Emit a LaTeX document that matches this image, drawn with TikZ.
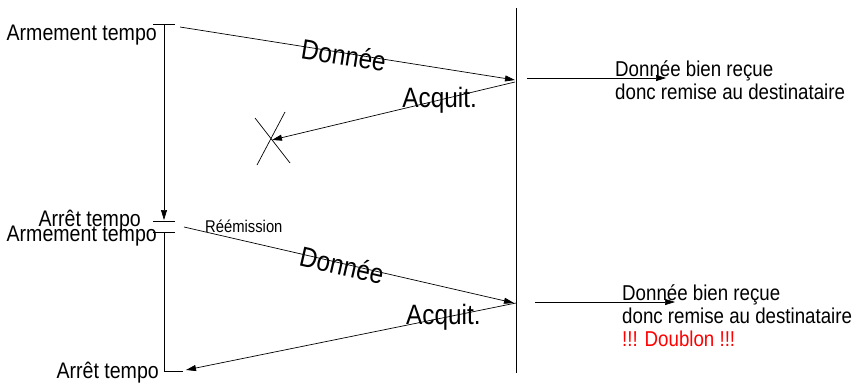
\documentclass[tikz,border=0pt]{standalone}
\usepackage{fontspec}
\setmainfont[FakeStretch=0.87]{Liberation Sans}
\usetikzlibrary{arrows.meta}

\begin{document}
\begin{tikzpicture}[x=1pt,y=-1pt,
    msg/.style={line width=0.7pt, -{Triangle[length=10pt,width=6pt]}},
    tick/.style={line width=0.7pt},
    lbl/.style={font=\fontsize{22.5}{26}\selectfont, inner sep=0pt},
    big/.style={font=\fontsize{28}{32}\selectfont, inner sep=0pt},
    info/.style={font=\fontsize{21.5}{23}\selectfont, inner sep=0pt, align=left, anchor=base west}]
  \useasboundingbox (0,0) rectangle (861,383);
  \def\ticklen{11pt}

  % emetteur
  \coordinate (t1) at (164,24);
  \coordinate (t2) at (164,220);
  \coordinate (t2b) at (164,221);
  \coordinate (t3) at (164,232);
  \coordinate (t4) at (164,371);
  \draw[tick] ([xshift=-\ticklen]t1) -- ([xshift=\ticklen]t1);
  \draw[tick] ([xshift=-\ticklen]t2b) -- ([xshift=\ticklen]t2b);
  \draw[tick] ([xshift=-\ticklen]t3) -- ([xshift=\ticklen]t3);
  \draw[tick] (t4) -- ([xshift=19pt]t4);
  \draw[msg] (t1) -- (t2);
  \draw[tick] (t3) -- (t4);

  \node[lbl, anchor=base east] (arm1) at (157,40) {Armement tempo};
  \node[lbl, anchor=base east] (arr1) at (141,226) {Arrêt tempo};
  \node[lbl, anchor=base east] (arm2) at (157,241) {Armement tempo};
  \node[lbl, anchor=base east] (arr2) at (159,378) {Arrêt tempo};
  \node[font=\fontsize{17}{20}\selectfont, inner sep=0pt, anchor=base west] (reem) at (205,232) {Réémission};

  % recepteur
  \coordinate (r0) at (516,8);
  \coordinate (r1) at (516,373);
  \draw[tick] (r0) -- (r1);

  % premier envoi
  \coordinate (d1s) at (180,27);
  \coordinate (d1e) at (515,80);
  \coordinate (a1s) at (515,82);
  \coordinate (lost) at (272,140);
  \draw[msg] (d1s) -- node[big, sloped, pos=0.49, yshift=-2pt] (don1) {Donnée} (d1e);
  \draw[msg] (a1s) -- node[big, pos=0.31] (acq1) {Acquit.} (lost);
  \draw[tick, shift={(lost)}] (-17,-22) -- (18,23) (13,-28) -- (-15,25);

  \coordinate (o1s) at (527,78);
  \coordinate (o1e) at (666,78);
  \draw[msg] (o1s) -- (o1e);
  \node[info] (recu1) at (615,99) {Donnée bien reçue\\donc remise au destinataire};

  % reemission
  \coordinate (d2s) at (184,227);
  \coordinate (d2e) at (514,303);
  \coordinate (a2s) at (516,303);
  \coordinate (a2e) at (186,370);
  \draw[msg] (d2s) -- node[big, sloped, pos=0.48, yshift=-2pt] (don2) {Donnée} (d2e);
  \draw[msg] (a2s) -- node[big, pos=0.22] (acq2) {Acquit.} (a2e);

  \coordinate (o2s) at (535,302);
  \coordinate (o2e) at (675,302);
  \draw[msg] (o2s) -- (o2e);
  \node[info] (recu2) at (622,346) {Donnée bien reçue\\donc remise au destinataire\\\textcolor{red}{!!! Doublon !!!}};

\end{tikzpicture}
\end{document}
